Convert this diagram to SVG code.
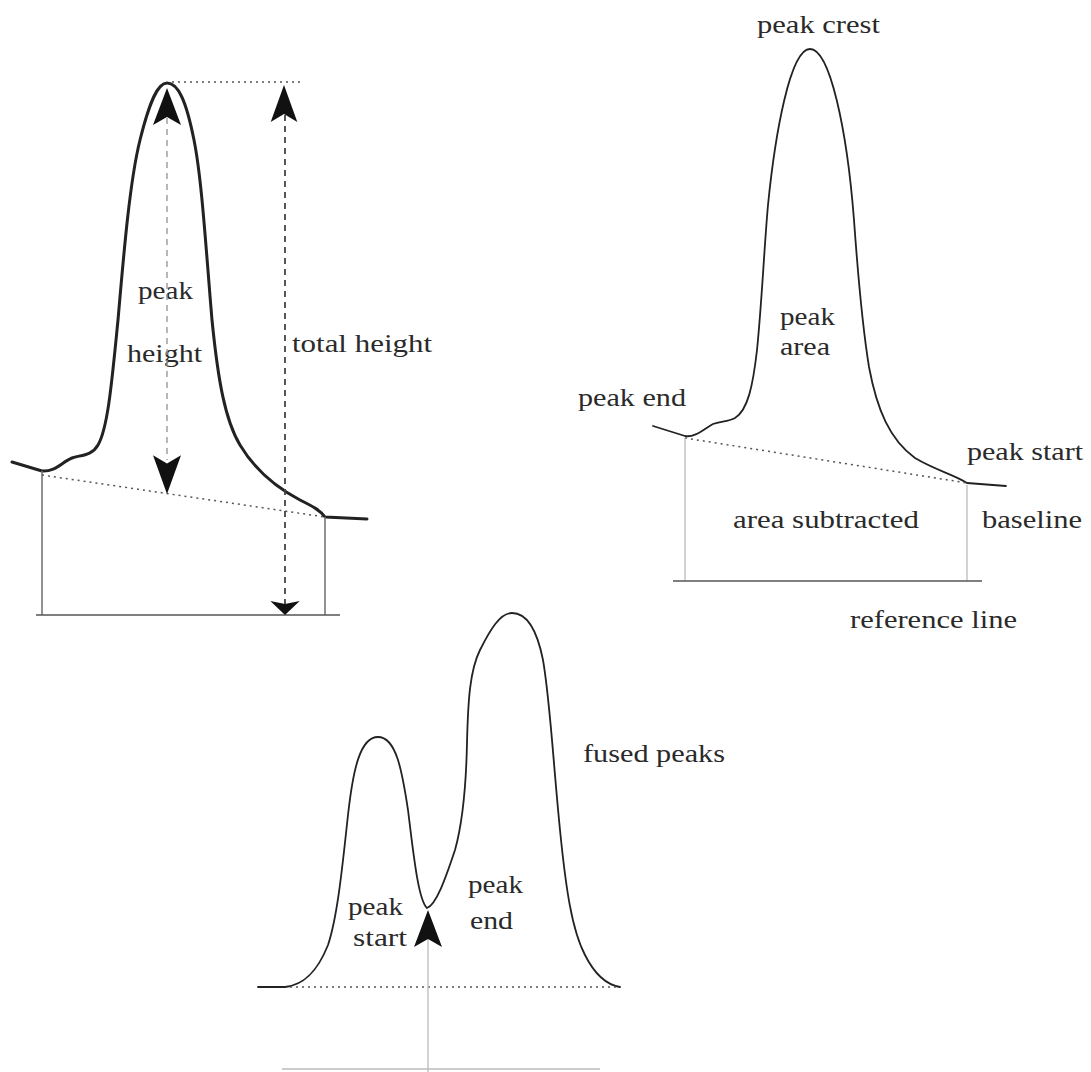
<svg xmlns="http://www.w3.org/2000/svg" width="1091" height="1072" viewBox="0 0 1091 1072">
<style>
.curve{fill:none;stroke:#222;stroke-linejoin:round;stroke-linecap:round}
.thick{stroke-width:3}
.thin{stroke-width:1.8}
.dot{fill:none;stroke:#555;stroke-width:1.5;stroke-dasharray:2 4}
.dash{fill:none;stroke:#444;stroke-width:1.8;stroke-dasharray:6 5}
.lightdash{fill:none;stroke:#999;stroke-width:1.4;stroke-dasharray:6 5}
.vline{stroke:#777;stroke-width:1.6}
.faint{stroke:#bbb;stroke-width:1.3}
.base{stroke:#555;stroke-width:1.6}
.head{fill:#111}
text{font-family:"Liberation Serif","Times New Roman",serif;font-size:26px;fill:#2a2a2a}
</style>
<defs>
<path id="ah" d="M0,0 L14,37 L0,29 L-14,37 Z"/>
</defs>
<rect width="1091" height="1072" fill="#fff"/>

<g id="left-diagram">
<path class="curve thick" d="M12,462 L42,471 C55,472 62,462 72,458 C80,455 92,456 98,445 C108,428 112,380 118,320 C124,250 130,180 140,140 C150,100 158,83 167,83 C178,83 186,100 194,140 C202,180 206,250 212,320 C218,380 225,420 240,445 C255,470 275,487 300,500 C312,506 320,510 325,517 L367,519"/>
<line class="vline" x1="42" y1="471" x2="42" y2="615"/>
<line class="vline" x1="325" y1="517" x2="325" y2="615"/>
<line class="base" x1="36" y1="615" x2="340" y2="615"/>
<line class="dot" x1="42" y1="475" x2="325" y2="517"/>
<line class="dot" x1="172" y1="82" x2="302" y2="82"/>
<text x="138" y="299" textLength="55" lengthAdjust="spacingAndGlyphs">peak</text>
<text x="127" y="362" textLength="75" lengthAdjust="spacingAndGlyphs">height</text>
<text x="292" y="352" textLength="140" lengthAdjust="spacingAndGlyphs">total height</text>
</g>

<g id="right-diagram">
<path class="curve thin" d="M653,426 L685,436 C695,438 705,428 713,424 C720,421 728,422 735,418 C748,410 753,385 757,350 C762,300 764,250 768,205 C775,135 790,49 810,49 C830,49 847,130 854,220 C859,290 863,330 869,367 C877,410 890,440 915,458 C935,470 955,475 967,483 L1006,486"/>
<line class="dot" x1="685" y1="438" x2="967" y2="483"/>
<line class="faint" x1="685" y1="438" x2="685" y2="581"/>
<line class="faint" x1="967" y1="485" x2="967" y2="581"/>
<line class="base" x1="673" y1="581" x2="982" y2="581"/>
<text x="757" y="33" textLength="123" lengthAdjust="spacingAndGlyphs">peak crest</text>
<text x="780" y="325" textLength="55" lengthAdjust="spacingAndGlyphs">peak</text>
<text x="780" y="355" textLength="50" lengthAdjust="spacingAndGlyphs">area</text>
<text x="578" y="406" textLength="108" lengthAdjust="spacingAndGlyphs">peak end</text>
<text x="967" y="460" textLength="116" lengthAdjust="spacingAndGlyphs">peak start</text>
<text x="733" y="528" textLength="186" lengthAdjust="spacingAndGlyphs">area subtracted</text>
<text x="982" y="528" textLength="100" lengthAdjust="spacingAndGlyphs">baseline</text>
<text x="850" y="628" textLength="167" lengthAdjust="spacingAndGlyphs">reference line</text>
</g>

<g id="bottom-diagram">
<path class="curve thin" d="M258,987 L285,987 C305,985 318,970 328,945 C338,915 343,860 348,815 C353,770 360,737 378,737 C396,737 402,770 408,810 C413,850 418,900 427,908 C436,905 445,880 455,850 C462,825 466,790 467,743 C468,700 470,670 480,650 C490,630 500,613 512,613 C527,613 537,630 543,660 C550,700 553,760 560,830 C566,890 572,930 585,955 C595,975 608,985 620,987"/>
<line class="dot" x1="290" y1="987" x2="620" y2="987"/>
<line class="faint" x1="282" y1="1069" x2="600" y2="1069"/>
<text x="583" y="762" textLength="142" lengthAdjust="spacingAndGlyphs">fused peaks</text>
<text x="348" y="915" textLength="55" lengthAdjust="spacingAndGlyphs">peak</text>
<text x="353" y="946" textLength="54" lengthAdjust="spacingAndGlyphs">start</text>
<text x="468" y="893" textLength="55" lengthAdjust="spacingAndGlyphs">peak</text>
<text x="470" y="929" textLength="43" lengthAdjust="spacingAndGlyphs">end</text>
</g>

<g id="connectors">
<line class="lightdash" x1="167" y1="118" x2="167" y2="460"/>
<use href="#ah" class="head" transform="translate(167,88)"/>
<use href="#ah" class="head" transform="translate(167,494) scale(1,-1.05)"/>
<line class="dash" x1="285" y1="115" x2="285" y2="606"/>
<use href="#ah" class="head" transform="translate(284,85) scale(0.95,1)"/>
<use href="#ah" class="head" transform="translate(285,615) scale(1.05,-0.38)"/>
<line class="faint" x1="428" y1="938" x2="428" y2="1072"/>
<use href="#ah" class="head" transform="translate(428,910)"/>
</g>
</svg>
